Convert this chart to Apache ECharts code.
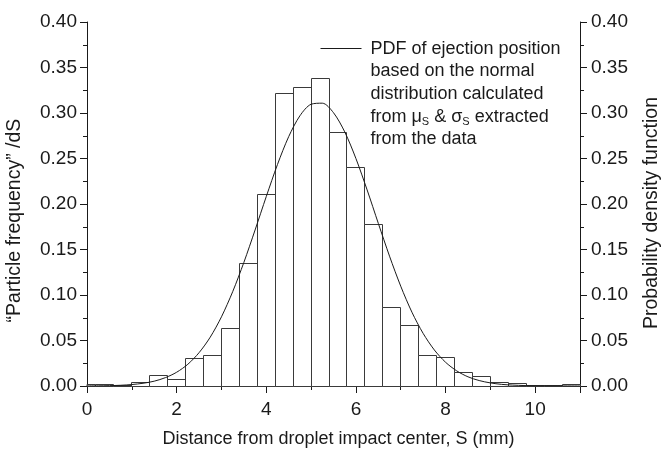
<!DOCTYPE html>
<html>
<head>
<meta charset="utf-8">
<script src="https://cdn.jsdelivr.net/npm/echarts@6/dist/echarts.min.js"></script>
<style>
  html, body { margin: 0; padding: 0; background: #fff; }
  #chart { width: 661px; height: 450px; }
</style>
</head>
<body>
<div id="chart"></div>
<script>
// Histogram: bin centres (mm), bin width and "particle frequency" per mm
const binCenters = [0.0, 0.4, 0.8, 1.2, 1.6, 2.0, 2.4, 2.8, 3.2, 3.6, 4.0, 4.4, 4.8, 5.2,
                    5.6, 6.0, 6.4, 6.8, 7.2, 7.6, 8.0, 8.4, 8.8, 9.2, 9.6, 10.0, 10.4, 10.8];
const binWidth = 0.4;
const particleFreq = [0.0015, 0.0015, 0.0008, 0.0035, 0.0115, 0.0070, 0.0300, 0.0335, 0.0635, 0.1350,
                      0.2100, 0.3210, 0.3275, 0.3380, 0.2790, 0.2400, 0.1770, 0.0865, 0.0670, 0.0330,
                      0.0315, 0.0145, 0.0100, 0.0035, 0.0025, 0.0005, 0.0005, 0.0015];

// Normal-distribution PDF of the ejection position, sampled along S
const pdfS = [0, 0.25, 0.5, 0.75, 1.0, 1.25, 1.5, 1.75, 2.0, 2.25, 2.5, 2.75, 3.0, 3.25, 3.5, 3.75,
              4.0, 4.25, 4.5, 4.75, 5.0, 5.25, 5.5, 5.75, 6.0, 6.25, 6.5, 6.75, 7.0, 7.25, 7.5, 7.75,
              8.0, 8.25, 8.5, 8.75, 9.0, 9.25, 9.5, 9.75, 10.0, 10.5, 11.0];
const pdfValue = [0.0001, 0.0002, 0.0004, 0.0008, 0.0016, 0.0030, 0.0053, 0.0092, 0.0151, 0.0239,
                  0.0366, 0.0537, 0.0760, 0.1036, 0.1358, 0.1714, 0.2082, 0.2434, 0.2740, 0.2969,
                  0.3096, 0.3108, 0.3003, 0.2793, 0.2500, 0.2155, 0.1787, 0.1427, 0.1097, 0.0811,
                  0.0578, 0.0396, 0.0261, 0.0166, 0.0101, 0.0060, 0.0034, 0.0018, 0.0010, 0.0005,
                  0.0002, 0.0001, 0.0000];

// Axis ranges
const xRange = [0, 11];
const yRange = [0, 0.40];

const FONT = "'Liberation Sans', Arial, Helvetica, sans-serif";
const INK = '#1a1a1a';

const chart = echarts.init(document.getElementById('chart'), null, { renderer: 'canvas' });

const histData = binCenters.map((c, i) => [c, particleFreq[i]]);
const pdfData = pdfS.map((s, i) => [s, pdfValue[i]]);

const axisLabelStyle = { color: INK, fontFamily: FONT, fontSize: 19 };

function crisp(v) { return Math.round(v - 0.5) + 0.5; }

const option = {
  backgroundColor: '#fff',
  animation: false,
  grid: { left: 87, right: 81, top: 22, bottom: 64, containLabel: false, outerBoundsMode: 'none' },
  legend: {
    show: true,
    left: 320,
    top: 36,
    padding: 0,
    itemWidth: 41,
    itemHeight: 115,
    icon: 'path://M0,0 M0,12 L41,12 M0,115',
    itemStyle: { color: 'transparent', borderColor: INK, borderWidth: 1 },
    data: [{ name: 'pdf' }],
    formatter: function () {
      return '{t|PDF of ejection position}\n' +
             '{t|based on the normal}\n' +
             '{t|distribution calculated}\n' +
             '{t|from μ}{s|S}{t| & σ}{s|S}{t| extracted}\n' +
             '{t|from the data}';
    },
    textStyle: {
      color: INK, fontFamily: FONT, fontSize: 18, padding: [0, 0, 0, 4],
      rich: {
        t: { fontFamily: FONT, fontSize: 18, lineHeight: 22.6, color: INK },
        s: { fontFamily: FONT, fontSize: 11, lineHeight: 1, verticalAlign: 'bottom', color: INK }
      }
    }
  },
  xAxis: [
    {
      type: 'value', min: xRange[0], max: xRange[1], interval: 2,
      name: 'Distance from droplet impact center, S (mm)',
      nameLocation: 'middle', nameGap: 44,
      nameTextStyle: { color: INK, fontFamily: FONT, fontSize: 18, padding: [0, 0, 0, 10] },
      axisLine: { show: true, onZero: false, lineStyle: { color: INK, width: 1 } },
      axisTick: { show: true, inside: false, length: 7, lineStyle: { color: INK } },
      axisLabel: { ...axisLabelStyle, margin: 14,
        formatter: v => (v === xRange[1] ? '' : String(v)) },
      splitLine: { show: false }
    },
    {
      // minor ticks every 1 mm
      type: 'value', min: xRange[0], max: xRange[1], interval: 1, position: 'bottom',
      axisLine: { show: false, onZero: false },
      axisTick: { show: true, inside: false, length: 4, lineStyle: { color: INK } },
      axisLabel: { show: false },
      splitLine: { show: false }
    }
  ],
  yAxis: [
    {
      type: 'value', min: yRange[0], max: yRange[1], interval: 0.05, position: 'left',
      name: '“Particle frequency” /dS',
      nameLocation: 'middle', nameGap: 62, nameRotate: 90,
      nameTextStyle: { color: INK, fontFamily: FONT, fontSize: 19.5, padding: [0, 33, 0, 0] },
      axisLine: { show: true, onZero: false, lineStyle: { color: INK, width: 1 } },
      axisTick: { show: true, inside: false, length: 7, lineStyle: { color: INK } },
      minorTick: { show: true, splitNumber: 2, length: 4, lineStyle: { color: INK } },
      axisLabel: { ...axisLabelStyle, margin: 10, formatter: v => v.toFixed(2) },
      splitLine: { show: false }
    },
    {
      type: 'value', min: yRange[0], max: yRange[1], interval: 0.05, position: 'right',
      name: 'Probability density function',
      nameLocation: 'middle', nameGap: 62, nameRotate: 90,
      nameTextStyle: { color: INK, fontFamily: FONT, fontSize: 19.5, padding: [0, 18, 0, 0] },
      axisLine: { show: true, onZero: false, lineStyle: { color: INK, width: 1 } },
      axisTick: { show: true, inside: false, length: 7, lineStyle: { color: INK } },
      minorTick: { show: true, splitNumber: 2, length: 4, lineStyle: { color: INK } },
      axisLabel: { ...axisLabelStyle, margin: 11, formatter: v => v.toFixed(2) },
      splitLine: { show: false }
    }
  ],
  series: [
    {
      name: 'histogram',
      type: 'custom',
      xAxisIndex: 0, yAxisIndex: 0,
      data: histData,
      renderItem: function (params, api) {
        const c = api.value(0), v = api.value(1);
        const pTop = api.coord([c - binWidth / 2, v]);
        const pBot = api.coord([c + binWidth / 2, 0]);
        const x0 = crisp(pTop[0]), x1 = crisp(pBot[0]);
        const y0 = crisp(pTop[1]), y1 = crisp(pBot[1]);
        const shape = echarts.graphic.clipRectByRect(
          { x: x0, y: y0, width: x1 - x0, height: y1 - y0 },
          { x: params.coordSys.x, y: params.coordSys.y - 1,
            width: params.coordSys.width + 1, height: params.coordSys.height + 2 });
        if (!shape) return null;
        return {
          type: 'rect',
          shape: shape,
          style: { fill: '#fff', stroke: '#3a3a3a', lineWidth: 1 }
        };
      },
      z: 2
    },
    {
      name: 'pdf',
      type: 'line',
      xAxisIndex: 0, yAxisIndex: 1,
      data: pdfData,
      smooth: 0.3,
      showSymbol: false,
      symbol: 'none',
      lineStyle: { color: INK, width: 1 },
      itemStyle: { color: INK },
      z: 3
    }
  ]
};

chart.setOption(option);
</script>
</body>
</html>
